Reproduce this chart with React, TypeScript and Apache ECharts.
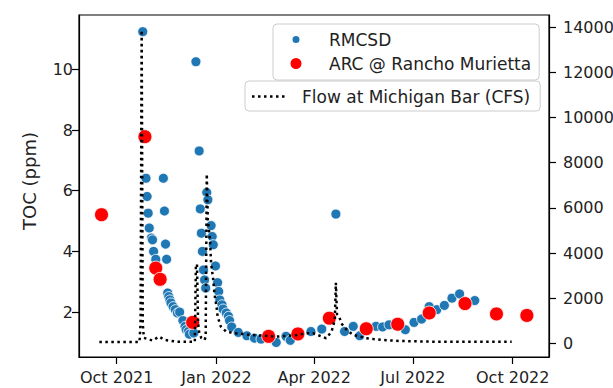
import React, { useEffect, useRef } from 'react';
import * as echarts from 'echarts';

// RMCSD TOC samples (ppm)
const rmcsdDates = [
  '2021-10-25', '2021-10-28', '2021-10-29', '2021-10-30', '2021-10-31', '2021-11-02', '2021-11-03',
  '2021-11-04', '2021-11-06', '2021-11-07', '2021-11-13', '2021-11-14', '2021-11-15', '2021-11-16',
  '2021-11-17', '2021-11-18', '2021-11-19', '2021-11-20', '2021-11-22', '2021-11-24', '2021-11-26',
  '2021-11-28', '2021-12-01', '2021-12-03', '2021-12-04', '2021-12-06', '2021-12-07', '2021-12-11',
  '2021-12-13', '2021-12-16', '2021-12-17', '2021-12-18', '2021-12-19', '2021-12-20', '2021-12-21',
  '2021-12-22', '2021-12-23', '2021-12-24', '2021-12-27', '2021-12-28', '2021-12-29', '2021-12-31',
  '2022-01-02', '2022-01-03', '2022-01-04', '2022-01-06', '2022-01-07', '2022-01-10', '2022-01-12',
  '2022-01-13', '2022-01-15', '2022-01-21', '2022-01-29', '2022-02-05', '2022-02-11', '2022-02-25',
  '2022-03-06', '2022-03-10', '2022-03-29', '2022-04-08', '2022-04-21', '2022-04-29', '2022-05-07',
  '2022-05-13', '2022-05-28', '2022-06-03', '2022-06-09', '2022-06-24', '2022-07-02', '2022-07-09',
  '2022-07-16', '2022-07-23', '2022-07-30', '2022-08-06', '2022-08-13', '2022-08-27',
];
const rmcsdToc = [
  11.24, 6.41, 5.81, 5.26, 4.77, 4.44, 4.38,
  4.0, 3.74, 3.39, 6.41, 5.33, 4.24, 3.74,
  2.63, 2.51, 2.4, 2.3, 2.18, 2.08, 1.97,
  2.0, 1.72, 1.53, 1.42, 1.36, 1.27, 1.31,
  10.25, 7.31, 5.4, 4.6, 4.0, 3.39, 3.06,
  2.79, 5.94, 5.7, 4.85, 4.49, 4.22, 3.52,
  2.97, 2.68, 2.4, 2.24, 2.1, 1.97, 1.86,
  1.72, 1.51, 1.33, 1.22, 1.14, 1.11, 1.0,
  1.2, 1.07, 1.36, 1.44, 5.23, 1.36, 1.53,
  1.22, 1.53, 1.51, 1.58, 1.42, 1.66, 1.77,
  2.18, 2.08, 2.22, 2.46, 2.6, 2.38,
];

// ARC @ Rancho Murietta TOC samples (ppm)
const arcDates = [
  '2021-09-17', '2021-10-27', '2021-11-06', '2021-11-10', '2021-12-10', '2022-02-18', '2022-03-17',
  '2022-04-15', '2022-05-19', '2022-06-17', '2022-07-16', '2022-08-18', '2022-09-16', '2022-10-14',
];
const arcToc = [5.21, 7.78, 3.45, 3.08, 1.66, 1.2, 1.28, 1.8, 1.45, 1.6, 1.97, 2.28, 1.94, 1.89];

// Flow at Michigan Bar (CFS)
const flowDates = [
  '2021-09-15', '2021-10-22', '2021-10-23', '2021-10-24', '2021-10-25', '2021-10-26', '2021-11-03',
  '2021-11-09', '2021-11-14', '2021-11-25', '2021-12-12', '2021-12-13', '2021-12-14', '2021-12-15',
  '2021-12-16', '2021-12-18', '2021-12-21', '2021-12-22', '2021-12-23', '2021-12-24', '2021-12-26',
  '2021-12-27', '2021-12-29', '2021-12-30', '2022-01-01', '2022-01-02', '2022-01-05', '2022-01-10',
  '2022-01-19', '2022-02-03', '2022-02-25', '2022-03-16', '2022-03-25', '2022-03-31', '2022-04-12',
  '2022-04-17', '2022-04-20', '2022-04-21', '2022-04-22', '2022-04-24', '2022-04-26', '2022-05-01',
  '2022-05-07', '2022-05-19', '2022-06-03', '2022-06-18', '2022-07-19', '2022-08-19', '2022-09-30',
];
const flowCfs = [
  60, 60, 900, 13870, 900, 250, 130,
  300, 160, 80, 70, 3500, 3500, 900,
  500, 240, 150, 300, 7500, 5460, 4580,
  3550, 2810, 2220, 1630, 1190, 745, 520,
  450, 375, 300, 375, 450, 450, 230,
  520, 1040, 2680, 1300, 1200, 890, 600,
  375, 230, 155, 110, 80, 80, 80,
];

const xTickDates = ['2021-10-01', '2022-01-01', '2022-04-01', '2022-07-01', '2022-10-01'];
const xTickLabels = ['Oct 2021', 'Jan 2022', 'Apr 2022', 'Jul 2022', 'Oct 2022'];
const tocTicks = [2, 4, 6, 8, 10];
const flowTicks = [0, 2000, 4000, 6000, 8000, 10000, 12000, 14000];

const toTime = (s: string) => Date.parse(s);

// legend glyphs (circle inside a fixed 14x14 box, dotted segment inside a 35x14 box)
const blueDotIcon = 'path://M0,0M14,14M2.5,7A4.5,4.5,0,1,1,11.5,7A4.5,4.5,0,1,1,2.5,7Z';
const redDotIcon = 'path://M0,0M14,14M0.5,7A6.5,6.5,0,1,1,13.5,7A6.5,6.5,0,1,1,0.5,7Z';
const dottedIcon =
  'path://M0,0M35,14' +
  [0, 6, 12, 18, 24, 30].map((x) => `M${x},5.75h2.5v2.5h-2.5Z`).join('');

export default function App() {
  const ref = useRef<HTMLDivElement>(null);
  useEffect(() => {
    const chart = echarts.init(ref.current!, null, { renderer: 'svg' });
    const font = 'DejaVu Sans';
    const textColor = '#222';
    const axisLineStyle = { color: '#000', width: 1.2 };
    const xTickValues = xTickDates.map(toTime);

    chart.setOption({
      animation: false,
      backgroundColor: '#fff',
      textStyle: { fontFamily: font },
      grid: {
        left: 79, right: 64, top: 15, bottom: 31,
        containLabel: false, outerBoundsMode: 'none',
        show: true, borderColor: '#000', borderWidth: 1.2, backgroundColor: 'transparent',
      },
      xAxis: {
        type: 'value',
        min: toTime('2021-08-27T06:00:00Z'),
        max: toTime('2022-11-03T10:00:00Z'),
        axisLine: { show: true, onZero: false, lineStyle: axisLineStyle },
        axisTick: { show: true, length: 7, customValues: xTickValues, lineStyle: axisLineStyle },
        axisLabel: {
          customValues: xTickValues,
          formatter: (v: number) => {
            let best = 0;
            xTickValues.forEach((t, i) => {
              if (Math.abs(t - v) < Math.abs(xTickValues[best] - v)) best = i;
            });
            return xTickLabels[best];
          },
          fontSize: 16, color: textColor, margin: 12, fontFamily: font,
        },
        splitLine: { show: false },
      },
      yAxis: [
        {
          type: 'value', position: 'left', min: 0.52, max: 11.79,
          name: 'TOC (ppm)', nameLocation: 'middle', nameGap: 41, nameMoveOverlap: false,
          nameTextStyle: { fontSize: 18, color: textColor, fontFamily: font, padding: [0, 0, 0, 10] },
          axisLine: { show: true, onZero: false, lineStyle: axisLineStyle },
          axisTick: { show: true, length: 7, customValues: tocTicks, lineStyle: axisLineStyle },
          axisLabel: {
            customValues: tocTicks, fontSize: 16, color: textColor, margin: 6, fontFamily: font,
            formatter: (v: number) => String(v),
          },
          splitLine: { show: false },
        },
        {
          type: 'value', position: 'right', min: -600, max: 14540,
          axisLine: { show: true, onZero: false, lineStyle: axisLineStyle },
          axisTick: { show: true, length: 7, customValues: flowTicks, lineStyle: axisLineStyle },
          axisLabel: {
            customValues: flowTicks, fontSize: 16, color: textColor, margin: 14, fontFamily: font,
            formatter: (v: number) => String(v),
          },
          splitLine: { show: false },
        },
      ],
      legend: [
        {
          orient: 'vertical', left: 273, top: 24,
          padding: [7, 8, 8, 15], itemGap: 7, itemWidth: 14, itemHeight: 14,
          backgroundColor: 'rgba(255,255,255,0.85)', borderColor: '#cccccc', borderWidth: 1, borderRadius: 4,
          textStyle: { fontSize: 17, color: textColor, fontFamily: font, padding: [0, 0, 0, 21] },
          selectedMode: false, z: 10,
          data: [
            { name: 'RMCSD', icon: blueDotIcon },
            { name: 'ARC @ Rancho Murietta', icon: redDotIcon },
          ],
        },
        {
          orient: 'vertical', left: 245, top: 81,
          padding: [7, 10, 6, 7], itemWidth: 35, itemHeight: 14,
          backgroundColor: 'rgba(255,255,255,0.85)', borderColor: '#cccccc', borderWidth: 1, borderRadius: 4,
          textStyle: { fontSize: 17, color: textColor, fontFamily: font, padding: [0, 0, 0, 10] },
          itemStyle: { color: '#000', borderWidth: 0 },
          selectedMode: false, z: 11,
          data: [{ name: 'Flow at Michigan Bar (CFS)', icon: dottedIcon }],
        },
      ],
      series: [
        {
          name: 'RMCSD', type: 'scatter', yAxisIndex: 0, z: 2,
          symbol: 'circle', symbolSize: 10,
          itemStyle: { color: '#1f77b4', borderColor: '#ffffff', borderWidth: 0.8, opacity: 1 },
          data: rmcsdDates.map((d, i) => [toTime(d), rmcsdToc[i]]),
        },
        {
          name: 'ARC @ Rancho Murietta', type: 'scatter', yAxisIndex: 0, z: 3,
          symbol: 'circle', symbolSize: 14,
          itemStyle: { color: '#ff0000', borderColor: '#ffffff', borderWidth: 0.8, opacity: 1 },
          data: arcDates.map((d, i) => [toTime(d), arcToc[i]]),
        },
        {
          name: 'Flow at Michigan Bar (CFS)', type: 'line', yAxisIndex: 1, z: 4,
          symbol: 'none', showSymbol: false,
          itemStyle: { color: '#000' },
          lineStyle: { color: '#000', width: 2.5, type: [2.5, 3.5] },
          data: flowDates.map((d, i) => [toTime(d), flowCfs[i]]),
        },
      ],
    });
    return () => chart.dispose();
  }, []);
  return (
    <div
      ref={ref}
      style={{ position: 'absolute', left: 0, top: 0, width: 613, height: 388, background: '#fff' }}
    />
  );
}
